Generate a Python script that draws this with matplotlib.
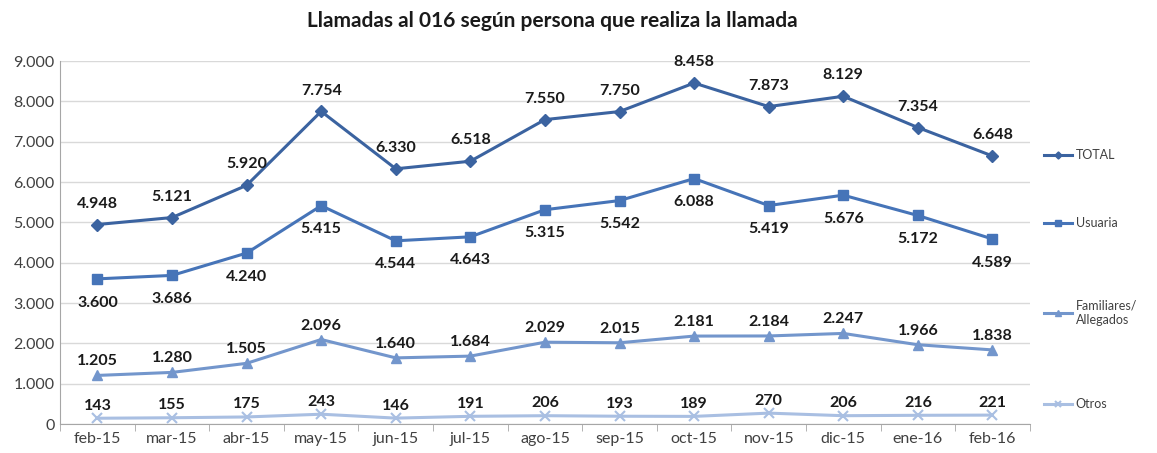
import matplotlib
matplotlib.use("Agg")
import matplotlib.pyplot as plt
from matplotlib.ticker import FuncFormatter
import numpy as np

plt.rcParams['font.family'] = ['Lato', 'DejaVu Sans']

meses = ["feb-15", "mar-15", "abr-15", "may-15", "jun-15", "jul-15", "ago-15",
         "sep-15", "oct-15", "nov-15", "dic-15", "ene-16", "feb-16"]
total = [4948, 5121, 5920, 7754, 6330, 6518, 7550, 7750, 8458, 7873, 8129, 7354, 6648]
usuaria = [3600, 3686, 4240, 5415, 4544, 4643, 5315, 5542, 6088, 5419, 5676, 5172, 4589]
familiares = [1205, 1280, 1505, 2096, 1640, 1684, 2029, 2015, 2181, 2184, 2247, 1966, 1838]
otros = [143, 155, 175, 243, 146, 191, 206, 193, 189, 270, 206, 216, 221]

series = [
    ("TOTAL", total, "#3B63A0", "D", 6, 10),
    ("Usuaria", usuaria, "#4674B8", "s", 7, -12),
    ("Familiares/\nAllegados", familiares, "#7396CC", "^", 7, 5),
    ("Otros", otros, "#A9BFE2", "x", 7, 4),
]


def miles(v, pos):
    return f"{int(v):,}".replace(",", ".")


fig = plt.figure(figsize=(11.57, 4.53), dpi=100)
ax = fig.add_axes([0.052, 0.064, 0.838, 0.801])

x = np.arange(len(meses))
handles = []
for nombre, vals, color, mk, ms, dy in series:
    ln, = ax.plot(x, vals, color=color, lw=2.2, marker=mk, markersize=ms,
                  markeredgewidth=1.5 if mk == "x" else 1, label=nombre, zorder=3)
    handles.append(ln)
    for xi, v in zip(x, vals):
        ax.annotate(miles(v, None), (xi, v), xytext=(0, dy), textcoords="offset points",
                    ha="center", va="bottom" if dy > 0 else "top",
                    fontsize=11.5, fontweight="bold", color="#1a1a1a")

ax.set_xlim(-0.5, len(meses) - 0.5)
ax.set_ylim(0, 9000)
ax.set_yticks(np.arange(0, 9001, 1000))
ax.yaxis.set_major_formatter(FuncFormatter(miles))
ax.set_xticks(x)
ax.set_xticklabels(meses)
ax.set_xticks(np.arange(-0.5, len(meses), 1), minor=True)
ax.tick_params(axis="x", which="major", length=0, labelsize=11.5, colors="#404040", pad=6)
ax.tick_params(axis="x", which="minor", length=5, color="#A6A6A6")
ax.tick_params(axis="y", length=0, labelsize=11.5, colors="#404040", pad=4)
ax.grid(axis="y", color="#D9D9D9", lw=1)
ax.set_axisbelow(True)
for s in ["top", "right"]:
    ax.spines[s].set_visible(False)
for s in ["left", "bottom"]:
    ax.spines[s].set_color("#A6A6A6")

fig.suptitle("Llamadas al 016 según persona que realiza la llamada",
             x=0.477, y=0.975, fontsize=15, fontweight="bold", color="#1a1a1a")

# legend entries spread down the right side
legend_y = [0.658, 0.508, 0.31, 0.108]
for h, ly in zip(handles, legend_y):
    lg = fig.legend(handles=[h], loc="center left", bbox_to_anchor=(0.893, ly),
                    frameon=False, fontsize=9, handlelength=2.2, handletextpad=0.3,
                    markerscale=0.6)
    for t in lg.get_texts():
        t.set_color("#404040")

fig.savefig("out.png", dpi=100)
